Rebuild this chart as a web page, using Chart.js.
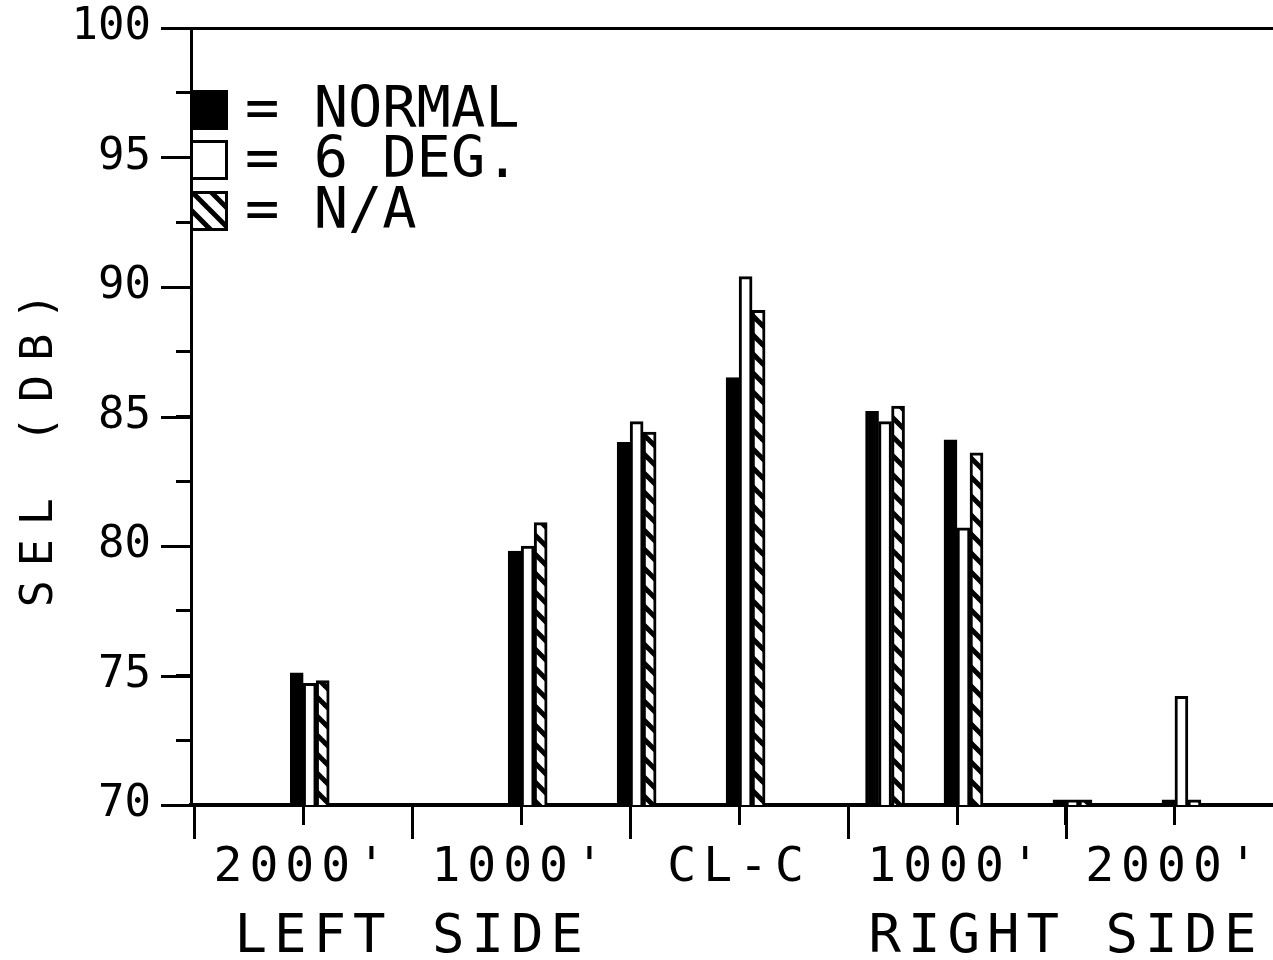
<!DOCTYPE html>
<html>
<head>
<meta charset="utf-8">
<script src="https://cdn.jsdelivr.net/npm/chart.js@4/dist/chart.umd.min.js"></script>
<style>
  html, body { margin: 0; padding: 0; background: #fff; }
  canvas { display: block; }
</style>
</head>
<body>
<canvas id="sel" width="1273" height="960"></canvas>
<script>
// Measurement stations, distance from the centreline in feet (negative = left side)
const positions = [-2000, -1000, -500, 0, 640, 1000, 1500, 2000];

// SEL (dB) at each station
const normalSEL = [75.1, 79.8, 84.0, 86.5, 85.2, 84.1, 70.2, 70.2];
const sixDegSEL = [74.7, 80.0, 84.8, 90.4, 84.8, 80.7, 70.2, 74.2];
const naSEL     = [74.8, 80.9, 84.4, 89.1, 85.4, 83.6, 70.2, 70.2];

const seriesNames = ['NORMAL', '6 DEG.', 'N/A'];

// Axis ticks and their labels
const xTickValues = [-2500, -2000, -1500, -1000, -500, 0, 500, 1000, 1500, 2000];
const xTickLabels = ['', "2000'", ['', 'LEFT SIDE'], "1000'", '', 'CL-C', '', "1000'", ['', 'RIGHT SIDE'], "2000'"];
const yTickValues = [70, 72.5, 75, 77.5, 80, 82.5, 85, 87.5, 90, 92.5, 95, 97.5, 100];
const yTickLabels = ['70', '', '75', '', '80', '', '85', '', '90', '', '95', '', '100'];
const yTitle = 'SEL (DB)';

const MONO = 'DejaVu Sans Mono';

// Diagonal hatch used for the third series
function makeHatch() {
  const s = 19;
  const c = document.createElement('canvas');
  c.width = s; c.height = s;
  const g = c.getContext('2d');
  g.fillStyle = '#fff';
  g.fillRect(0, 0, s, s);
  g.strokeStyle = '#000';
  g.lineWidth = 5;
  for (let k = -1; k <= 1; k++) {
    g.beginPath();
    g.moveTo(k * s - s, -s);
    g.lineTo(k * s + 2 * s, 2 * s);
    g.stroke();
  }
  return g.createPattern(c, 'repeat');
}
const hatch = makeHatch();

const points = vals => positions.map((x, i) => ({ x, y: vals[i] }));

// Long tick marks, legend and rotated axis title
const decor = {
  id: 'decor',
  beforeDraw(chart) { chart.ctx.letterSpacing = '0px'; },
  afterDatasetsDraw(chart) { chart.ctx.letterSpacing = '7px'; },
  afterDraw(chart) {
    const { ctx, chartArea, scales } = chart;
    ctx.save();
    ctx.letterSpacing = '0px';
    ctx.strokeStyle = '#000';
    ctx.lineWidth = 3;
    const seg = (x1, y1, x2, y2) => { ctx.beginPath(); ctx.moveTo(x1, y1); ctx.lineTo(x2, y2); ctx.stroke(); };

    scales.y.ticks.forEach(t => {
      if (t.value % 5 === 0) {
        const y = Math.round(scales.y.getPixelForValue(t.value)) + 0.5;
        seg(chartArea.left - 30, y, chartArea.left, y);
      }
    });
    scales.x.ticks.forEach(t => {
      if (Math.abs(t.value / 500) % 2 === 1) {
        const x = Math.round(scales.x.getPixelForValue(t.value)) + 0.5;
        seg(x, chartArea.bottom, x, chartArea.bottom + 34);
      }
    });

    // legend
    const rows = [110, 160, 211];
    const series = chart.data.datasets.filter(d => d.label);
    ctx.font = '57px "' + MONO + '"';
    ctx.textAlign = 'left';
    ctx.textBaseline = 'middle';
    series.forEach((ds, i) => {
      const cy = rows[i];
      ctx.fillStyle = ds.backgroundColor;
      ctx.fillRect(190, cy - 20, 38, 40);
      ctx.strokeRect(191.5, cy - 18.5, 35, 37);
      ctx.fillStyle = '#000';
      ctx.fillText('= ' + ds.label, 245, cy + 2);
    });

    // y axis title
    ctx.translate(40, 450);
    ctx.rotate(-Math.PI / 2);
    ctx.letterSpacing = '14px';
    ctx.font = '45px "' + MONO + '"';
    ctx.textAlign = 'center';
    ctx.fillText(yTitle, 7, 0);
    ctx.restore();
    ctx.letterSpacing = '0px';
  }
};

new Chart(document.getElementById('sel'), {
  type: 'bar',
  data: {
    datasets: [
      // empty leading slot: each group of three starts at its station mark
      { label: '', data: positions.map(x => ({ x, y: null })), backgroundColor: 'rgba(0,0,0,0)' },
      { label: seriesNames[0], data: points(normalSEL), backgroundColor: '#000', borderColor: '#000', borderWidth: 3 },
      { label: seriesNames[1], data: points(sixDegSEL), backgroundColor: '#fff', borderColor: '#000', borderWidth: 3 },
      { label: seriesNames[2], data: points(naSEL), backgroundColor: hatch, borderColor: '#000', borderWidth: 3 }
    ]
  },
  options: {
    responsive: false,
    animation: false,
    events: [],
    datasets: { bar: { barThickness: 13 } },
    layout: { padding: { top: 28, left: 0, right: 0, bottom: 0 } },
    plugins: { legend: { display: false }, tooltip: { enabled: false } },
    scales: {
      x: {
        type: 'linear',
        min: -2515,
        max: 2450,
        offset: false,
        afterBuildTicks: s => { s.ticks = xTickValues.map(v => ({ value: v })); },
        afterFit: s => { s.height = 155; s.paddingLeft = 0; s.paddingRight = 0; },
        grid: {
          offset: false,
          drawOnChartArea: false,
          drawTicks: true,
          tickLength: 20,
          tickWidth: 3,
          tickColor: '#000',
          color: '#000'
        },
        border: { display: true, color: '#000', width: 4 },
        ticks: {
          autoSkip: false,
          maxRotation: 0,
          minRotation: 0,
          padding: 9,
          z: 1,
          color: '#000',
          font: c => Array.isArray(xTickLabels[c.index])
            ? { family: MONO, size: 54, lineHeight: '69px' }
            : { family: MONO, size: 48, lineHeight: '69px' },
          callback: (v, i) => xTickLabels[i]
        }
      },
      y: {
        type: 'linear',
        min: 70,
        max: 100,
        beginAtZero: false,
        afterBuildTicks: s => { s.ticks = yTickValues.map(v => ({ value: v })); },
        afterFit: s => { s.width = 191; s.paddingTop = 0; s.paddingBottom = 0; },
        grid: {
          color: c => (c.tick && c.tick.value === 100) ? '#000' : 'rgba(0,0,0,0)',
          lineWidth: 3,
          drawTicks: true,
          tickLength: 15,
          tickWidth: 3,
          tickColor: '#000'
        },
        border: { display: true, color: '#000', width: 3 },
        ticks: {
          padding: 25,
          color: '#000',
          font: { family: MONO, size: 44 },
          callback: (v, i) => yTickLabels[i]
        }
      }
    }
  },
  plugins: [decor]
});
</script>
</body>
</html>
